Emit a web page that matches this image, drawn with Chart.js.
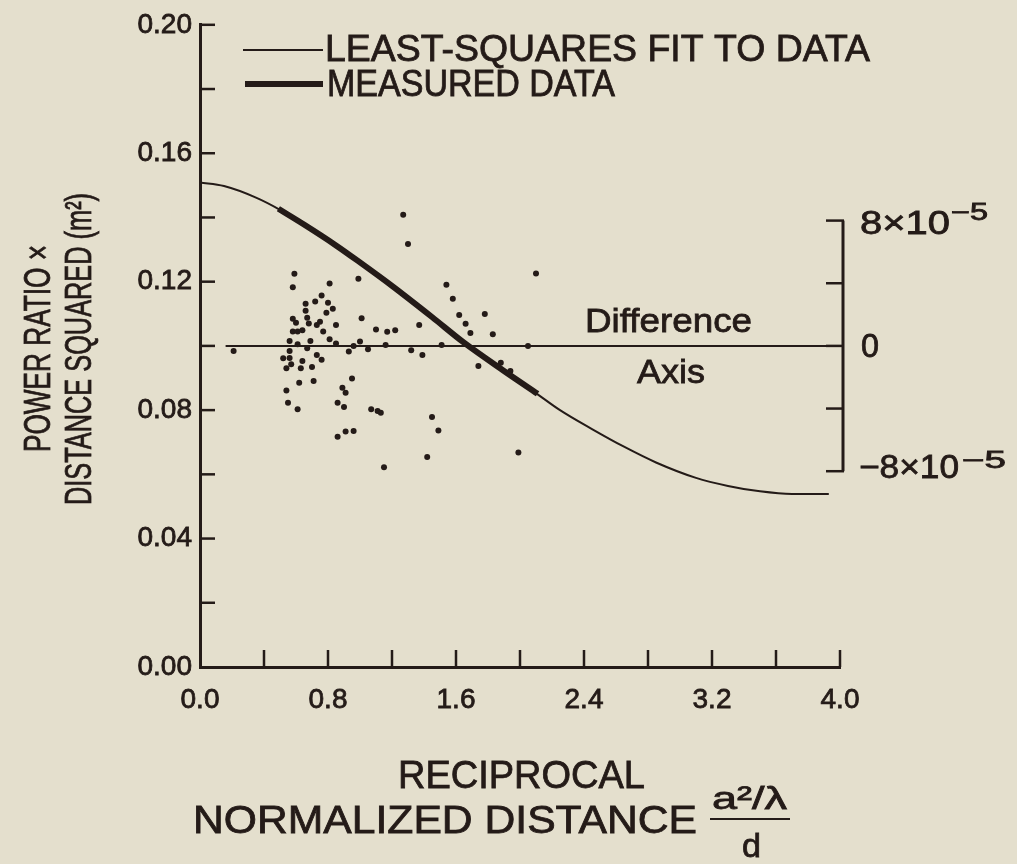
<!DOCTYPE html>
<html>
<head>
<meta charset="utf-8">
<title>Power ratio x distance squared</title>
<script src="https://cdn.jsdelivr.net/npm/chart.js@4.4.1/dist/chart.umd.min.js"></script>
<style>
  html, body { margin: 0; padding: 0; background: #e4dfcd; }
  #wrap { width: 1017px; height: 864px; position: relative; }
</style>
</head>
<body>
<div id="wrap"><canvas id="chart"></canvas></div>
<script>
// least-squares fit (left axis, m^2)
const fitX = [0, 0.15, 0.35, 0.5, 0.65, 0.85, 1.0, 1.2, 1.45, 1.65, 1.9, 2.1, 2.25, 2.45, 2.65, 2.85, 3.1, 3.3, 3.5, 3.7, 3.93];
const fitY = [0.1509, 0.1498, 0.1462, 0.1424, 0.1378, 0.1313, 0.1260, 0.1187, 0.1090, 0.1010, 0.0922, 0.0853, 0.0800, 0.0741, 0.0686, 0.0637, 0.0589, 0.0564, 0.0547, 0.0539, 0.0539];

// measured data, drawn as the heavy trace
const measX = [0.49, 0.65, 0.85, 1.0, 1.2, 1.45, 1.65, 1.9, 2.11];
const measY = [0.1427, 0.1378, 0.1313, 0.1260, 0.1187, 0.1090, 0.1010, 0.0922, 0.0851];

// measured minus fit, right axis, in units of 1e-5
const diffX = [0.21, 0.59, 0.58, 0.81, 0.99, 0.76, 0.72, 0.80, 0.83, 0.66,
  0.66, 0.67, 0.79, 0.58, 0.60, 0.68, 0.75, 0.73, 0.85, 0.58,
  0.61, 0.64, 0.77, 0.81, 0.56, 0.56, 0.56, 0.61, 0.69, 0.67,
  0.85, 0.93, 0.73, 0.76, 0.52, 0.57, 0.54, 0.64, 0.63, 0.70,
  0.62, 0.71, 0.54, 0.55, 0.61, 0.89, 0.91, 0.86, 0.90, 0.95,
  1.01, 1.10, 1.17, 1.22, 0.96, 1.00, 1.05, 1.16, 1.07, 1.11,
  1.13, 0.86, 0.91, 0.96, 1.27, 1.30, 2.10, 1.54, 1.58, 1.62,
  1.78, 1.66, 1.69, 1.83, 1.37, 1.32, 1.39, 1.51, 1.74, 1.88,
  1.94, 2.05, 1.45, 1.49, 1.42, 1.15, 1.99];
const diffY = [-0.32, 4.61, 3.74, 3.99, 4.29, 3.22, 2.84, 2.75, 2.37, 2.69,
  2.24, 1.79, 2.11, 1.73, 1.47, 1.43, 1.54, 1.34, 1.34, 0.92,
  0.92, 1.00, 0.92, 0.43, 0.32, -0.32, -0.77, 0.11, 0.32, -0.15,
  0.15, -0.36, -0.58, -0.88, -0.79, -1.17, -1.43, -0.96, -1.43, -1.34,
  -2.35, -2.24, -2.84, -3.63, -4.05, -2.67, -2.99, -3.63, -3.90, -2.08,
  1.77, 1.04, 0.90, 1.00, 0.00, 0.28, -0.21, 0.06, -4.05, -4.16,
  -4.27, -5.80, -5.46, -5.44, 8.38, 6.51, 4.63, 3.90, 3.01, 1.98,
  2.03, 1.41, 0.83, 0.75, 1.34, -0.28, -0.58, 0.06, -1.28, -1.07,
  -1.60, 0.00, -4.54, -5.40, -7.10, -7.74, -6.80];

// tick labels
const xTickLabels = ["0.0", "0.8", "1.6", "2.4", "3.2", "4.0"];
const yTickLabels = ["0.00", "0.04", "0.08", "0.12", "0.16", "0.20"];
const diffTicks = [-8, -4, 0, 4, 8];
const diffLabels = { "8": ["8×10", "−5"], "0": ["0", ""], "-8": ["−8×10", "−5"] };

const INK = "#241b18";
const BG = "#e4dfcd";
const FONT = '"Liberation Sans", Arial, sans-serif';

const toPts = (xs, ys) => xs.map((x, i) => ({ x: x, y: ys[i] }));
const labelFor = (list, v) => {
  const hit = list.find(l => Math.abs(parseFloat(l) - v) < 1e-6);
  return hit || "";
};

// text squeezed/stretched to a given width, with a light stroke to thicken it
function fitText(ctx, str, x, y, w, size) {
  ctx.font = size + "px " + FONT;
  const nat = ctx.measureText(str).width;
  ctx.save();
  ctx.translate(x, y);
  ctx.scale(w / nat, 1);
  ctx.textAlign = "left";
  ctx.textBaseline = "middle";
  ctx.lineWidth = 0.8;
  ctx.fillText(str, 0, 0);
  ctx.strokeText(str, 0, 0);
  ctx.restore();
}

const decor = {
  id: "decor",
  beforeDraw(chart) {
    const ctx = chart.ctx;
    ctx.save();
    ctx.fillStyle = BG;
    ctx.fillRect(0, 0, chart.width, chart.height);
    ctx.restore();
  },
  beforeDatasetsDraw(chart) {
    const { ctx, scales } = chart;
    const xs = scales.x, ys = scales.y, y2 = scales.y2;
    ctx.save();
    ctx.strokeStyle = INK;
    ctx.lineCap = "butt";

    // inward ticks on left and bottom axes
    ctx.lineWidth = 2.5;
    ys.ticks.forEach((t, i) => {
      if (Math.abs(t.value) < 1e-9) return;
      const py = ys.getPixelForTick(i);
      ctx.beginPath(); ctx.moveTo(200, py); ctx.lineTo(215, py); ctx.stroke();
    });
    xs.ticks.forEach((t, i) => {
      if (Math.abs(t.value) < 1e-9) return;
      const px = xs.getPixelForTick(i);
      ctx.beginPath(); ctx.moveTo(px, chart.chartArea.bottom); ctx.lineTo(px, chart.chartArea.bottom - 17); ctx.stroke();
    });

    // difference axis
    const zero = y2.getPixelForValue(0);
    const rx = xs.getPixelForValue(4.0) + 3;
    ctx.lineWidth = 2;
    ctx.beginPath(); ctx.moveTo(xs.getPixelForValue(0.16), zero); ctx.lineTo(rx, zero); ctx.stroke();

    // right (difference) scale
    ctx.lineWidth = 3;
    ctx.beginPath();
    ctx.moveTo(rx, y2.getPixelForValue(8));
    ctx.lineTo(rx, y2.getPixelForValue(-8));
    ctx.stroke();
    ctx.lineWidth = 2.5;
    diffTicks.forEach(v => {
      const py = y2.getPixelForValue(v);
      ctx.beginPath(); ctx.moveTo(rx - 17, py); ctx.lineTo(rx + 1, py); ctx.stroke();
    });
    ctx.restore();
  },
  afterDraw(chart) {
    const { ctx, scales } = chart;
    const y2 = scales.y2;
    ctx.save();
    ctx.fillStyle = INK;
    ctx.strokeStyle = INK;

    // right axis labels
    const p8 = y2.getPixelForValue(8), p0 = y2.getPixelForValue(0), pm8 = y2.getPixelForValue(-8);
    fitText(ctx, diffLabels["8"][0], 860, p8 + 4, 90, 33);
    fitText(ctx, diffLabels["8"][1], 951, p8 - 7, 37, 23);
    fitText(ctx, diffLabels["0"][0], 861, p0 + 2, 18, 33);
    fitText(ctx, diffLabels["-8"][0], 859, pm8 - 2, 100, 33);
    fitText(ctx, diffLabels["-8"][1], 962, pm8 - 10, 44, 23);

    fitText(ctx, "Difference", 585, 323, 167, 34);
    fitText(ctx, "Axis", 637, 374, 68, 34);

    // legend
    ctx.lineWidth = 2;
    ctx.beginPath(); ctx.moveTo(243, 50); ctx.lineTo(323, 50); ctx.stroke();
    fitText(ctx, "LEAST-SQUARES FIT TO DATA", 325, 51, 545, 37);
    ctx.lineWidth = 6;
    ctx.beginPath(); ctx.moveTo(245, 84); ctx.lineTo(323, 84); ctx.stroke();
    fitText(ctx, "MEASURED DATA", 327, 86, 288, 37);

    // y title, rotated
    ctx.save();
    ctx.translate(40, 452);
    ctx.rotate(-Math.PI / 2);
    fitText(ctx, "POWER RATIO ×", 0, 0, 207, 37);
    ctx.restore();
    ctx.save();
    ctx.translate(81, 505);
    ctx.rotate(-Math.PI / 2);
    fitText(ctx, "DISTANCE SQUARED (m²)", 0, 0, 312, 37);
    ctx.restore();

    // x title
    fitText(ctx, "RECIPROCAL", 398, 778, 247, 38);
    fitText(ctx, "NORMALIZED DISTANCE", 193, 823, 504, 38);
    fitText(ctx, "a²/λ", 712, 800, 75, 32);
    ctx.lineWidth = 2;
    ctx.beginPath(); ctx.moveTo(710, 819); ctx.lineTo(790, 819); ctx.stroke();
    fitText(ctx, "d", 742, 848, 19, 34);
    ctx.restore();
  }
};

new Chart(document.getElementById("chart"), {
  type: "line",
  data: {
    datasets: [
      {
        label: "Least-squares fit",
        data: toPts(fitX, fitY),
        yAxisID: "y",
        borderColor: INK,
        borderWidth: 2,
        pointRadius: 0,
        cubicInterpolationMode: "monotone",
        fill: false
      },
      {
        label: "Measured data",
        data: toPts(measX, measY),
        yAxisID: "y",
        borderColor: INK,
        borderWidth: 6,
        pointRadius: 0,
        cubicInterpolationMode: "monotone",
        fill: false
      },
      {
        label: "Difference",
        data: toPts(diffX, diffY),
        yAxisID: "y2",
        showLine: false,
        pointRadius: 3,
        pointBorderWidth: 0,
        pointBackgroundColor: INK,
        borderColor: INK
      }
    ]
  },
  options: {
    responsive: true,
    maintainAspectRatio: false,
    animation: false,
    events: [],
    layout: { autoPadding: false, padding: { top: 24, right: 177, left: 0, bottom: 0 } },
    plugins: { legend: { display: false }, tooltip: { enabled: false } },
    scales: {
      x: {
        type: "linear",
        min: 0,
        max: 4,
        afterFit: s => { s.height = 864 - 667; },
        grid: { display: false, drawTicks: false },
        border: { display: true, color: INK, width: 3 },
        ticks: {
          stepSize: 0.4,
          autoSkip: false,
          maxRotation: 0,
          padding: 16,
          color: INK,
          textStrokeColor: INK,
          textStrokeWidth: 0.8,
          font: { family: FONT, size: 28 },
          callback: v => labelFor(xTickLabels, v)
        }
      },
      y: {
        type: "linear",
        position: "left",
        min: 0,
        max: 0.2,
        afterFit: s => { s.width = 200; },
        grid: { display: false, drawTicks: false },
        border: { display: true, color: INK, width: 3 },
        ticks: {
          stepSize: 0.02,
          autoSkip: false,
          padding: 8,
          color: INK,
          textStrokeColor: INK,
          textStrokeWidth: 0.8,
          font: { family: FONT, size: 28 },
          callback: v => labelFor(yTickLabels, v)
        }
      },
      y2: {
        type: "linear",
        display: false,
        min: -20.5,
        max: 20.5
      }
    }
  },
  plugins: [decor]
});
</script>
</body>
</html>
